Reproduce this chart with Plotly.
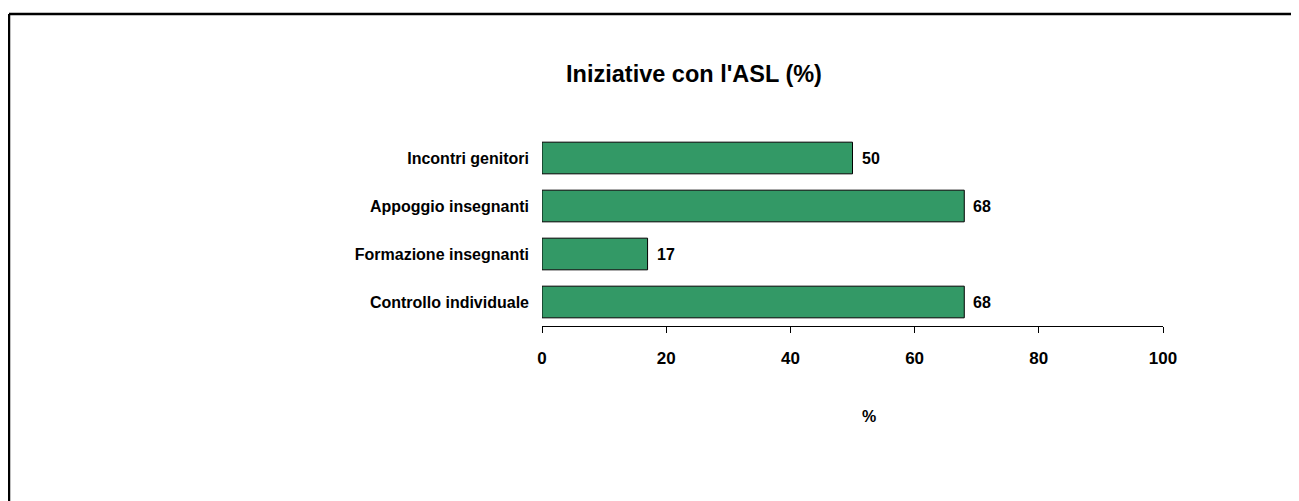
import plotly.graph_objects as go

# the page body adds an 8px margin, so positions below are page pixels minus 8
OFF = 8
W, H = 1299 - OFF, 501 - OFF
# plot area in page pixels
X0, X1 = 542 - OFF, 1163 - OFF
Y0, Y1 = 134 - OFF, 326 - OFF

categories = ["Incontri genitori", "Appoggio insegnanti", "Formazione insegnanti", "Controllo individuale"]
values = [50, 68, 17, 68]
tick_vals = [0, 20, 40, 60, 80, 100]

FONT = "Liberation Sans, Arial, sans-serif"
BAR_GREEN = "#339966"


def px_to_paper(x, y):
    x, y = x - OFF, y - OFF
    return (x - X0) / (X1 - X0), (Y1 - y) / (Y1 - Y0)


fig = go.Figure(
    go.Bar(
        x=values,
        y=categories,
        orientation="h",
        marker=dict(color=BAR_GREEN, line=dict(color="black", width=1)),
        width=0.66,
        hoverinfo="x+y",
    )
)

# value labels just past the bar ends
for cat, val in zip(categories, values):
    fig.add_annotation(
        x=val, y=cat, xref="x", yref="y",
        text=f"<b>{val}</b>", showarrow=False,
        xanchor="left", xshift=7,
        font=dict(family=FONT, size=16, color="black"),
    )

fig.update_layout(
    width=W,
    height=H,
    margin=dict(l=X0, r=W - X1, t=Y0, b=H - Y1, pad=0),
    paper_bgcolor="white",
    plot_bgcolor="white",
    showlegend=False,
    font=dict(family=FONT, size=16, color="black"),
    title=dict(
        text="<b>Iniziative con l'ASL (%)</b>",
        x=(694 - OFF) / W,
        xanchor="center",
        y=1 - (74 - OFF) / H,
        yanchor="middle",
        font=dict(family=FONT, size=23.5, color="black"),
    ),
)

fig.update_xaxes(
    range=[0, 100],
    tickvals=tick_vals,
    ticktext=[f"<b>{v}</b>" for v in tick_vals],
    showgrid=False,
    zeroline=False,
    showline=True,
    linecolor="black",
    linewidth=1,
    ticks="outside",
    ticklen=6,
    tickcolor="black",
    ticklabelstandoff=11,
    tickfont=dict(family=FONT, size=17, color="black"),
)
fig.update_yaxes(
    categoryorder="array",
    categoryarray=categories[::-1],
    tickvals=categories,
    ticktext=[f"<b>{c}</b>" for c in categories],
    showgrid=False,
    zeroline=False,
    showline=False,
    ticks="",
    ticklabelstandoff=12,
    tickfont=dict(family=FONT, size=16, color="black"),
)

# axis title "%" sits well below the tick labels
ax, ay = px_to_paper(869, 427)
fig.add_annotation(
    x=ax, y=ay, xref="paper", yref="paper",
    text="<b>%</b>", showarrow=False,
    font=dict(family=FONT, size=16, color="black"),
)

# outer frame: only top and left edges fall inside the picture
lx, ty = px_to_paper(9, 14)
rx, by = px_to_paper(1310, 520)
fig.add_shape(type="line", xref="paper", yref="paper", x0=lx, y0=ty, x1=rx, y1=ty,
              line=dict(color="black", width=2.5))
fig.add_shape(type="line", xref="paper", yref="paper", x0=lx, y0=ty, x1=lx, y1=by,
              line=dict(color="black", width=2.5))

fig.write_html("out.html")
